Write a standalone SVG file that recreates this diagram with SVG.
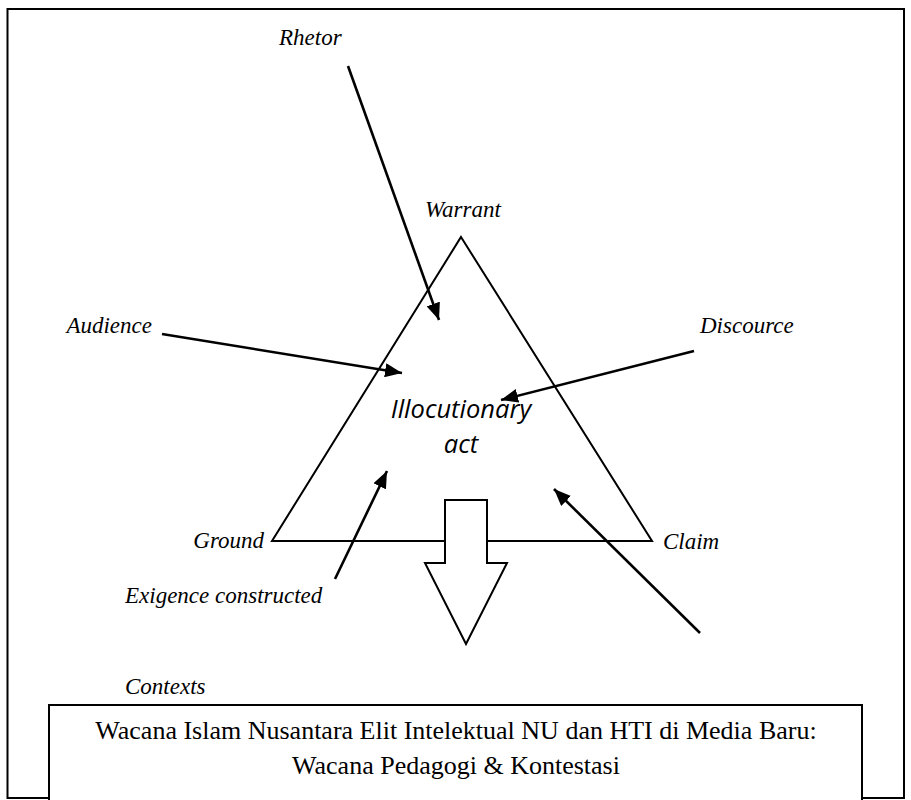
<svg xmlns="http://www.w3.org/2000/svg" width="911" height="800" viewBox="0 0 911 800">
<style>
.lbl{font-family:"Liberation Serif","Times New Roman",serif;font-style:italic;font-size:23px;fill:#000}
.main{font-family:"Liberation Serif","Times New Roman",serif;font-size:26px;fill:#000}
.ill{font-family:"Open Sans","Noto Sans",sans-serif;font-style:italic;font-size:25.5px;fill:#000}
.shape{fill:#fff;stroke:#000;stroke-width:2}
.conn{fill:none;stroke:#000;stroke-width:2.6;marker-end:url(#ah)}
</style>
<defs>
<marker id="ah" markerUnits="userSpaceOnUse" markerWidth="18" markerHeight="14" refX="17" refY="7" orient="auto">
<path d="M0,0 L17,7 L0,14 z" fill="#000"/>
</marker>
</defs>
<rect width="911" height="800" fill="#fff"/>
<g id="frame">
<path d="M49,798 H7.5 V9 H904 V798 H862" fill="none" stroke="#000" stroke-width="2"/>
</g>
<g id="triangle">
<polygon class="shape" points="461,237 652,541 272,541"/>
</g>
<g id="illocutionary">
<text class="ill" x="461" y="418" text-anchor="middle">Illocutionary</text>
<text class="ill" x="461" y="453" text-anchor="middle">act</text>
</g>
<g id="down-arrow">
<polygon class="shape" points="445,500 487,500 487,563 507,563 466,644 425,563 445,563"/>
</g>
<g id="labels">
<text id="rhetor" class="lbl" x="279" y="45">Rhetor</text>
<text id="warrant" class="lbl" x="425" y="217">Warrant</text>
<text id="audience" class="lbl" x="152" y="333" text-anchor="end">Audience</text>
<text id="discource" class="lbl" x="700" y="333">Discource</text>
<text id="ground" class="lbl" x="264" y="548" text-anchor="end">Ground</text>
<text id="claim" class="lbl" x="663" y="549">Claim</text>
<text id="exigence" class="lbl" x="125" y="603">Exigence constructed</text>
<text id="contexts" class="lbl" x="125" y="694">Contexts</text>
</g>
<g id="connectors">
<path class="conn" d="M348,66 L439,320"/>
<path class="conn" d="M162,334 L402,373"/>
<path class="conn" d="M694,351 L501,400"/>
<path class="conn" d="M335,579 L387,471"/>
<path class="conn" d="M700,633 L554,489"/>
</g>
<g id="context-box">
<rect class="shape" x="49" y="705" width="813" height="110"/>
<text class="main" x="456" y="739" text-anchor="middle">Wacana Islam Nusantara Elit Intelektual NU dan HTI di Media Baru:</text>
<text class="main" x="456" y="774" text-anchor="middle">Wacana Pedagogi &amp; Kontestasi</text>
</g>
</svg>
